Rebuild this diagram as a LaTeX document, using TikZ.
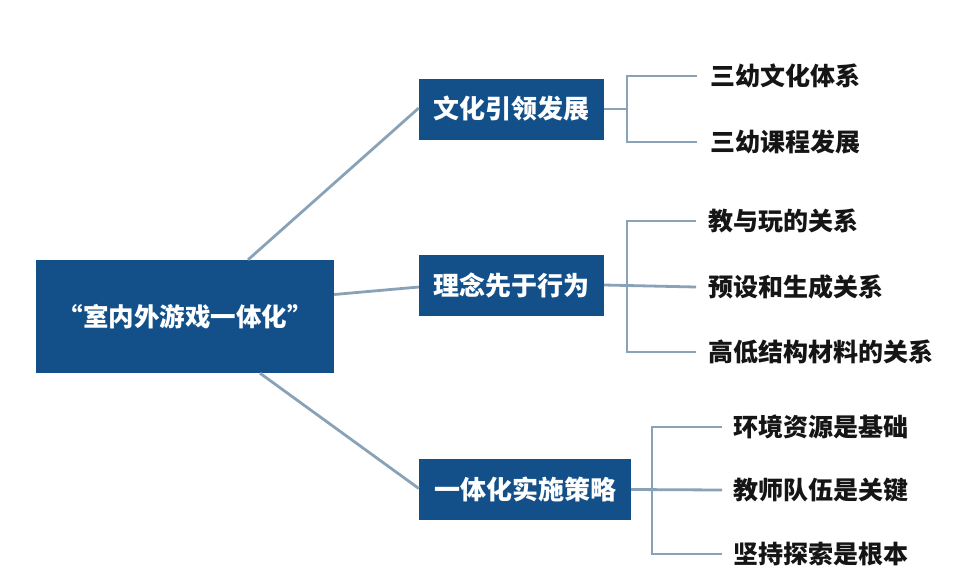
\documentclass[tikz,border=0pt]{standalone}
\usepackage{fontspec}
\setmainfont{Noto Sans CJK SC}
\usepackage{tikz}
\usetikzlibrary{positioning}
\definecolor{boxblue}{HTML}{13508A}
\definecolor{linegray}{HTML}{89A2B7}
\definecolor{leafink}{HTML}{151515}
\tikzset{
  branch/.style={draw=linegray, line width=2.8pt},
  rootbox/.style={fill=boxblue, text=white, inner sep=0pt, minimum width=298pt, minimum height=113pt, font=\fontsize{25.5pt}{28pt}\selectfont\bfseries},
  topicbox/.style={fill=boxblue, text=white, inner sep=0pt, minimum height=61pt, font=\fontsize{26pt}{28pt}\selectfont\bfseries},
  leaftext/.style={anchor=west, inner sep=0pt, text=leafink, font=\fontsize{25pt}{27pt}\selectfont\bfseries}
}
\begin{document}
\begin{tikzpicture}[x=1pt, y=-1pt]
  \useasboundingbox (0,0) rectangle (979,587);
  \node[rootbox] (root) at (185,316.5) {“室内外游戏一体化”};
  \node[topicbox, minimum width=185pt] (culture) at (511.5,109) {文化引领发展};
  \node[topicbox, minimum width=185pt] (idea) at (511.5,285) {理念先于行为};
  \node[topicbox, minimum width=212pt] (plan) at (525,489.5) {一体化实施策略};
  % leaves
  \node[leaftext] (c1) at (710,76) {三幼文化体系};
  \node[leaftext] (c2) at (710,142) {三幼课程发展};
  \node[leaftext] (i1) at (708,221) {教与玩的关系};
  \node[leaftext] (i2) at (708,287) {预设和生成关系};
  \node[leaftext] (i3) at (708,352) {高低结构材料的关系};
  \node[leaftext] (p1) at (733,427) {环境资源是基础};
  \node[leaftext] (p2) at (733,490) {教师队伍是关键};
  \node[leaftext] (p3) at (733,554) {坚持探索是根本};
  \coordinate (fc) at (627,109);
  \coordinate (fi) at (627,287);
  \coordinate (fp) at (652,489.5);
  % root to topics
  \draw[branch] ([xshift=63pt]root.north) -- ([yshift=1pt]culture.west);
  \draw[branch] ([yshift=22pt]root.east) -- ([yshift=-2pt]idea.west);
  \draw[branch] ([xshift=75pt]root.south) -- ([yshift=1pt]plan.west);
  % forks
  \draw[branch] (culture.east) -- (fc);
  \draw[branch] ([xshift=-13pt]c1.west) -| (fc) |- ([xshift=-13pt]c2.west);
  \draw[branch] (idea.east) -- ([xshift=-12pt]i2.west);
  \draw[branch] ([xshift=-12pt]i1.west) -| (fi) |- ([xshift=-12pt]i3.west);
  \draw[branch] (plan.east) -- ([xshift=-11pt]p2.west);
  \draw[branch] ([xshift=-11pt]p1.west) -| (fp) |- ([xshift=-11pt]p3.west);
\end{tikzpicture}
\end{document}
